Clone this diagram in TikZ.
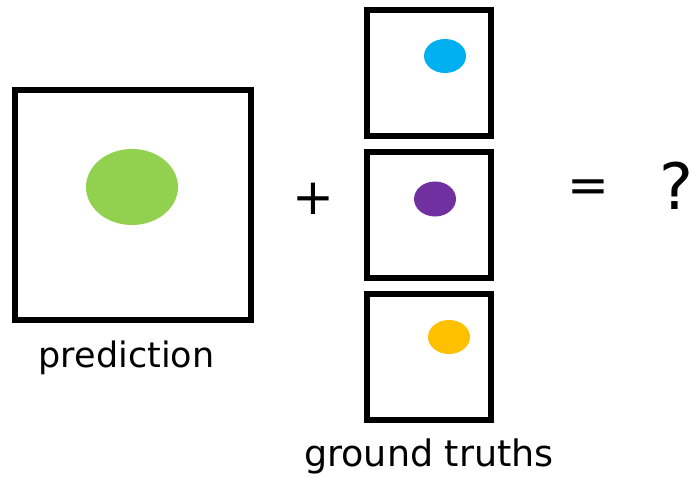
\documentclass[tikz,border=0pt]{standalone}
\usepackage{fontspec}
\setmainfont{DejaVu Sans}
\usetikzlibrary{shapes.geometric}
\definecolor{cgreen}{HTML}{92D050}
\definecolor{cblue}{HTML}{00B0F0}
\definecolor{cpurple}{HTML}{7030A0}
\definecolor{corange}{HTML}{FFC000}
\tikzset{
  frame/.style={draw=black, line width=6pt, fill=white, inner sep=0pt},
  blob/.style={ellipse, inner sep=0pt, draw=none},
  lbl/.style={anchor=base, inner sep=0pt, text=black}
}
\begin{document}
\begin{tikzpicture}[x=1pt,y=-1pt]
\useasboundingbox (0,0) rectangle (692,478);
\node[frame, minimum width=236pt, minimum height=230pt] (pred) at (133,205) {};
\node[blob, fill=cgreen, minimum width=92pt, minimum height=76pt] (pg) at (132,187) {};
\node[frame, minimum width=124pt, minimum height=126pt] (g1) at (429,72.7) {};
\node[frame, minimum width=124pt, minimum height=126pt] (g2) at (429,214.7) {};
\node[frame, minimum width=124pt, minimum height=126pt] (g3) at (429,356.7) {};
\node[blob, fill=cblue, minimum width=42pt, minimum height=34pt] (b1) at (445,56) {};
\node[blob, fill=cpurple, minimum width=42pt, minimum height=35pt] (b2) at (435,199) {};
\node[blob, fill=corange, minimum width=42pt, minimum height=34pt] (b3) at (449,337) {};
\node[lbl, font=\fontsize{35}{40}\selectfont] (tp) at (126.5,367) {prediction};
\node[lbl, font=\fontsize{36.5}{42}\selectfont] (tg) at (429,466) {ground truths};
\node[font=\fontsize{50}{56}\selectfont, inner sep=0pt] (plus) at (313,199) {+};
\node[font=\fontsize{50}{56}\selectfont, inner sep=0pt] (eq) at (588,191) {=};
\node[lbl, font=\fontsize{64}{70}\selectfont] (q) at (676,210) {?};
\end{tikzpicture}
\end{document}
